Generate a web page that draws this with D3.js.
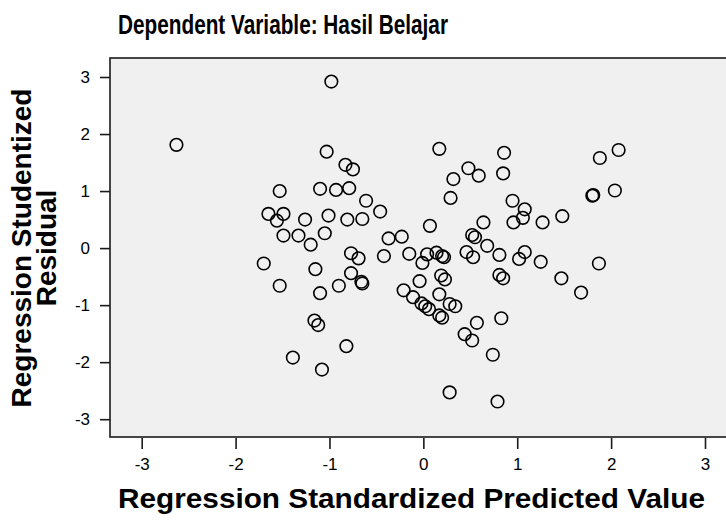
<!DOCTYPE html>
<html><head><meta charset="utf-8">
<script src="https://cdn.jsdelivr.net/npm/d3@7/dist/d3.min.js"></script>
<style>body{margin:0;background:#fff}svg{display:block}text{font-family:"Liberation Sans",Arial,sans-serif}</style>
</head><body>
<script>
const title = "Dependent Variable: Hasil Belajar";
const xLabel = "Regression Standardized Predicted Value";
const yLabelLines = ["Regression Studentized", "Residual"];
const tickValues = [-3, -2, -1, 0, 1, 2, 3];
const predicted = [
 -2.63,-0.98,-1.03,-0.83,-0.75,-1.53,-1.10,-0.93,-0.79,-0.61,-0.46,-1.65,-1.49,-1.56,-1.26,-1.01,-0.81,-0.65,-1.49,-1.33,
 -1.05,-1.20,-0.37,-0.23,-1.70,-1.53,-1.15,-1.10,-0.77,-0.69,-0.42,-0.15,-0.77,-0.66,-0.65,-0.90,-0.21,-0.11,-1.16,-1.12,
 -0.82,-1.39,-1.08,
 0.17,0.86,0.48,0.59,0.32,0.85,0.29,0.95,1.08,1.06,0.96,1.27,1.48,0.07,0.64,0.52,0.55,0.68,1.88,2.08,
 1.80,1.81,2.04,1.87,1.25,1.47,1.68,-0.01,0.04,0.14,0.20,0.22,0.46,0.53,0.81,1.02,1.08,-0.04,-0.02,0.02,
 0.06,0.17,0.19,0.23,0.17,0.20,0.28,0.34,0.57,0.44,0.52,0.81,0.85,0.83,0.74,0.28,0.79
];
const residual = [
 1.81,2.92,1.69,1.46,1.38,1.00,1.04,1.02,1.05,0.83,0.64,0.60,0.60,0.48,0.50,0.57,0.50,0.51,0.22,0.22,
 0.26,0.06,0.17,0.20,-0.27,-0.66,-0.37,-0.79,-0.09,-0.18,-0.14,-0.10,-0.44,-0.59,-0.62,-0.66,-0.74,-0.86,-1.27,-1.35,
 -1.72,-1.92,-2.13,
 1.74,1.67,1.40,1.27,1.21,1.31,0.88,0.83,0.68,0.53,0.45,0.45,0.56,0.39,0.45,0.23,0.19,0.04,1.58,1.72,
 0.92,0.93,1.01,-0.27,-0.24,-0.53,-0.78,-0.26,-0.11,-0.08,-0.14,-0.16,-0.07,-0.16,-0.12,-0.19,-0.07,-0.58,-0.97,-1.02,
 -1.07,-0.81,-0.48,-0.55,-1.18,-1.22,-0.98,-1.02,-1.31,-1.51,-1.62,-0.47,-0.53,-1.23,-1.87,-2.53,-2.69
];
const points = predicted.map((p, i) => ({ p, r: residual[i] }));

const W = 726, H = 521;
const svg = d3.select("body").append("svg").attr("width", W).attr("height", H);

const plot = { left: 110, top: 58, right: 740, bottom: 437 };
const x = d3.scaleLinear().domain([-3, 3]).range([141.7, 705]);
const y = d3.scaleLinear().domain([-3, 3]).range([419.2, 77.0]);
const fmt = d => String(d);

svg.append("rect").attr("x", plot.left).attr("y", plot.top)
  .attr("width", plot.right - plot.left).attr("height", plot.bottom - plot.top)
  .attr("fill", "#f0f0f0").attr("stroke", "#1a1a1a").attr("stroke-width", 1.6);

const xAxis = d3.axisBottom(x).tickValues(tickValues).tickSize(11).tickPadding(9).tickFormat(fmt);
const gx = svg.append("g").attr("transform", `translate(0,${plot.bottom + 1})`).call(xAxis);
gx.select(".domain").remove();
gx.selectAll(".tick line").attr("stroke", "#1a1a1a").attr("stroke-width", 1.6);
gx.selectAll(".tick text").attr("font-size", 17).attr("fill", "#000")
  .style("font-family", '"Liberation Sans",Arial,sans-serif');

const yAxis = d3.axisLeft(y).tickValues(tickValues).tickSize(10).tickPadding(10).tickFormat(fmt);
const gy = svg.append("g").attr("transform", `translate(${plot.left},0)`).call(yAxis);
gy.select(".domain").remove();
gy.selectAll(".tick line").attr("stroke", "#1a1a1a").attr("stroke-width", 1.6);
gy.selectAll(".tick text").attr("font-size", 17).attr("fill", "#000")
  .style("font-family", '"Liberation Sans",Arial,sans-serif');

svg.append("g").selectAll("circle").data(points).join("circle")
  .attr("cx", d => x(d.p)).attr("cy", d => y(d.r)).attr("r", 6.3)
  .attr("fill", "none").attr("stroke", "#000").attr("stroke-width", 1.6);

svg.append("text").attr("x", 118).attr("y", 34).attr("font-size", 28.5).attr("font-weight", "bold")
  .attr("textLength", 330).attr("lengthAdjust", "spacingAndGlyphs")
  .text(title);

svg.append("text").attr("x", 118).attr("y", 508)
  .attr("font-size", 28.5).attr("font-weight", "bold")
  .attr("textLength", 587).attr("lengthAdjust", "spacingAndGlyphs").text(xLabel);

const yl = svg.append("text").attr("transform", "translate(0,248) rotate(-90)")
  .attr("text-anchor", "middle").attr("font-size", 28).attr("font-weight", "bold");
yl.selectAll("tspan").data(yLabelLines).join("tspan")
  .attr("x", 0).attr("y", (d, i) => 31 + i * 25).text(d => d);
</script>
</body></html>
